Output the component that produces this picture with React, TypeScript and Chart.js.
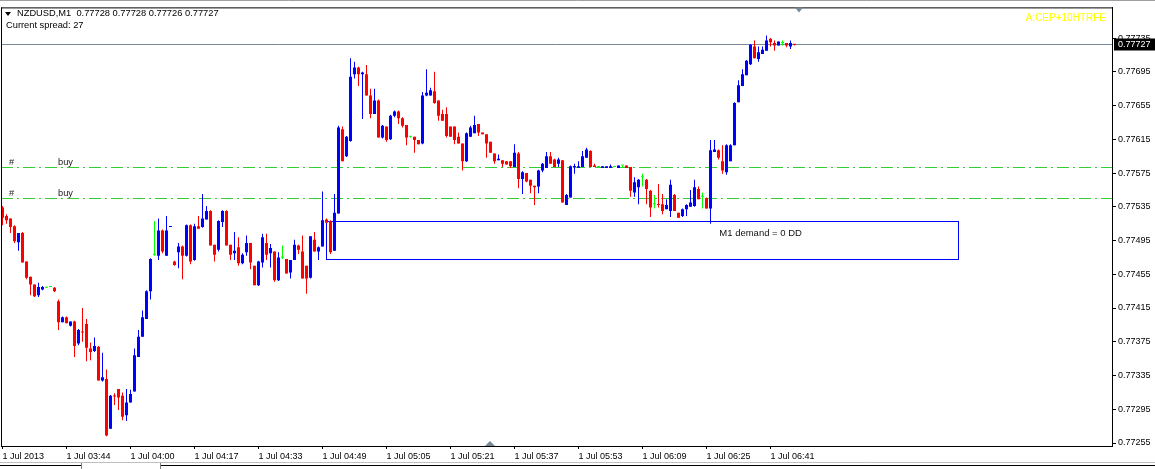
import React, { useEffect, useRef } from "react";
import { Chart, registerables } from "chart.js";

Chart.register(...registerables);

// ---- data ----
const symbolTitle = "NZDUSD,M1  0.77728 0.77728 0.77726 0.77727";
const spreadText = "Current spread: 27";
const indicatorText = "A:CEP+10HTRFE";
const demandText = "M1 demand = 0 DD";

const timeLabels = [
  "1 Jul 2013", "1 Jul 03:44", "1 Jul 04:00", "1 Jul 04:17", "1 Jul 04:33", "1 Jul 04:49",
  "1 Jul 05:05", "1 Jul 05:21", "1 Jul 05:37", "1 Jul 05:53", "1 Jul 06:09", "1 Jul 06:25", "1 Jul 06:41",
];
const timeLabelBars = [0, 16, 32, 48, 64, 80, 96, 112, 128, 144, 160, 176, 192];

const priceTicks = [
  0.77255, 0.77295, 0.77335, 0.77375, 0.77415, 0.77455, 0.77495,
  0.77535, 0.77575, 0.77615, 0.77655, 0.77695, 0.77735,
];

const currentPrice = 0.77727;
const buyLevels = [0.77582, 0.77545];
const demandZone = { startBar: 81, endBar: 239, top: 0.77517, bottom: 0.77473 };
const demandTextAt = { bar: 179.2, price: 0.77503 };

const opens = [
  0.77534, 0.77524, 0.77521, 0.77512, 0.77493, 0.77504, 0.77470, 0.77452, 0.77443, 0.77430,
  0.77437, 0.77439, 0.77440, 0.77439, 0.77423, 0.77398, 0.77404, 0.77394, 0.77399, 0.77373,
  0.77387, 0.77396, 0.77367, 0.77364, 0.77369, 0.77329, 0.77331, 0.77272, 0.77311, 0.77319,
  0.77311, 0.77288, 0.77303, 0.77316, 0.77357, 0.77381, 0.77402, 0.77435, 0.77478, 0.77477,
  0.77507, 0.77477, 0.77511, 0.77470, 0.77481, 0.77488, 0.77477, 0.77513, 0.77472, 0.77512,
  0.77511, 0.77520, 0.77530, 0.77490, 0.77484, 0.77517, 0.77530, 0.77490, 0.77480, 0.77487,
  0.77468, 0.77481, 0.77492, 0.77465, 0.77442, 0.77469, 0.77492, 0.77480, 0.77482, 0.77448,
  0.77475, 0.77473, 0.77457, 0.77472, 0.77489, 0.77482, 0.77465, 0.77451, 0.77496, 0.77482,
  0.77488, 0.77520, 0.77518, 0.77483, 0.77527, 0.77627, 0.77595, 0.77613, 0.77692, 0.77700,
  0.77692, 0.77692, 0.77667, 0.77645, 0.77661, 0.77617, 0.77630, 0.77615, 0.77643, 0.77648,
  0.77640, 0.77632, 0.77618, 0.77618, 0.77614, 0.77610, 0.77667, 0.77667, 0.77672, 0.77661,
  0.77645, 0.77645, 0.77630, 0.77630, 0.77618, 0.77610, 0.77589, 0.77618, 0.77622, 0.77633,
  0.77623, 0.77621, 0.77612, 0.77598, 0.77590, 0.77590, 0.77589, 0.77589, 0.77582, 0.77598,
  0.77568, 0.77575, 0.77567, 0.77560, 0.77559, 0.77578, 0.77581, 0.77595, 0.77591, 0.77586,
  0.77590, 0.77537, 0.77546, 0.77582, 0.77581, 0.77582, 0.77593, 0.77601, 0.77584, 0.77582,
  0.77581, 0.77581, 0.77581, 0.77582, 0.77581, 0.77584, 0.77584, 0.77582, 0.77552, 0.77558,
  0.77570, 0.77567, 0.77554, 0.77538, 0.77538, 0.77538, 0.77532, 0.77530, 0.77549, 0.77528,
  0.77524, 0.77532, 0.77535, 0.77536, 0.77556, 0.77547, 0.77545, 0.77533, 0.77600, 0.77602,
  0.77589, 0.77576, 0.77589, 0.77608, 0.77659, 0.77678, 0.77691, 0.77704, 0.77725, 0.77710,
  0.77716, 0.77720, 0.77734, 0.77729, 0.77726, 0.77729, 0.77729, 0.77725, 0.77728,
];
const highs = [
  0.77536, 0.77526, 0.77521, 0.77513, 0.77504, 0.77505, 0.77470, 0.77452, 0.77443, 0.77445,
  0.77441, 0.77440, 0.77441, 0.77440, 0.77425, 0.77405, 0.77405, 0.77399, 0.77400, 0.77390,
  0.77415, 0.77402, 0.77374, 0.77380, 0.77370, 0.77362, 0.77342, 0.77312, 0.77314, 0.77319,
  0.77315, 0.77319, 0.77318, 0.77367, 0.77389, 0.77412, 0.77436, 0.77474, 0.77518, 0.77521,
  0.77508, 0.77524, 0.77512, 0.77471, 0.77492, 0.77489, 0.77514, 0.77514, 0.77515, 0.77524,
  0.77550, 0.77536, 0.77531, 0.77490, 0.77519, 0.77531, 0.77531, 0.77490, 0.77505, 0.77499,
  0.77480, 0.77501, 0.77492, 0.77465, 0.77471, 0.77503, 0.77503, 0.77491, 0.77482, 0.77481,
  0.77489, 0.77473, 0.77472, 0.77496, 0.77490, 0.77501, 0.77465, 0.77500, 0.77505, 0.77488,
  0.77553, 0.77521, 0.77519, 0.77550, 0.77631, 0.77630, 0.77619, 0.77711, 0.77707, 0.77701,
  0.77695, 0.77703, 0.77675, 0.77675, 0.77662, 0.77632, 0.77630, 0.77644, 0.77649, 0.77649,
  0.77641, 0.77632, 0.77619, 0.77618, 0.77614, 0.77671, 0.77698, 0.77676, 0.77695, 0.77661,
  0.77650, 0.77653, 0.77630, 0.77630, 0.77623, 0.77610, 0.77623, 0.77631, 0.77643, 0.77633,
  0.77623, 0.77621, 0.77612, 0.77598, 0.77597, 0.77590, 0.77589, 0.77589, 0.77609, 0.77600,
  0.77577, 0.77575, 0.77567, 0.77560, 0.77579, 0.77587, 0.77600, 0.77600, 0.77592, 0.77593,
  0.77590, 0.77550, 0.77584, 0.77586, 0.77589, 0.77601, 0.77605, 0.77602, 0.77586, 0.77582,
  0.77583, 0.77583, 0.77585, 0.77582, 0.77584, 0.77584, 0.77584, 0.77582, 0.77570, 0.77568,
  0.77574, 0.77568, 0.77555, 0.77549, 0.77562, 0.77550, 0.77544, 0.77567, 0.77550, 0.77528,
  0.77533, 0.77538, 0.77555, 0.77567, 0.77559, 0.77552, 0.77546, 0.77614, 0.77614, 0.77603,
  0.77608, 0.77609, 0.77609, 0.77659, 0.77685, 0.77698, 0.77709, 0.77728, 0.77732, 0.77725,
  0.77725, 0.77738, 0.77735, 0.77732, 0.77731, 0.77732, 0.77729, 0.77732, 0.77728,
];
const lows = [
  0.77513, 0.77515, 0.77504, 0.77492, 0.77483, 0.77469, 0.77449, 0.77430, 0.77428, 0.77428,
  0.77436, 0.77439, 0.77440, 0.77434, 0.77389, 0.77398, 0.77397, 0.77393, 0.77357, 0.77371,
  0.77375, 0.77352, 0.77353, 0.77363, 0.77329, 0.77328, 0.77263, 0.77272, 0.77300, 0.77294,
  0.77282, 0.77281, 0.77303, 0.77316, 0.77357, 0.77381, 0.77402, 0.77425, 0.77477, 0.77472,
  0.77480, 0.77477, 0.77511, 0.77465, 0.77462, 0.77449, 0.77476, 0.77467, 0.77471, 0.77509,
  0.77510, 0.77520, 0.77489, 0.77470, 0.77482, 0.77511, 0.77489, 0.77472, 0.77472, 0.77465,
  0.77467, 0.77477, 0.77461, 0.77442, 0.77441, 0.77463, 0.77472, 0.77463, 0.77446, 0.77447,
  0.77473, 0.77456, 0.77450, 0.77472, 0.77479, 0.77450, 0.77432, 0.77450, 0.77482, 0.77472,
  0.77488, 0.77516, 0.77479, 0.77483, 0.77527, 0.77589, 0.77594, 0.77612, 0.77687, 0.77678,
  0.77639, 0.77667, 0.77640, 0.77645, 0.77617, 0.77616, 0.77612, 0.77614, 0.77641, 0.77633,
  0.77629, 0.77608, 0.77617, 0.77599, 0.77609, 0.77609, 0.77666, 0.77667, 0.77657, 0.77637,
  0.77637, 0.77617, 0.77618, 0.77609, 0.77610, 0.77578, 0.77588, 0.77618, 0.77622, 0.77619,
  0.77621, 0.77593, 0.77599, 0.77586, 0.77590, 0.77582, 0.77585, 0.77581, 0.77582, 0.77557,
  0.77550, 0.77564, 0.77551, 0.77537, 0.77551, 0.77576, 0.77581, 0.77586, 0.77582, 0.77582,
  0.77540, 0.77537, 0.77546, 0.77574, 0.77581, 0.77582, 0.77593, 0.77582, 0.77582, 0.77582,
  0.77581, 0.77581, 0.77581, 0.77582, 0.77581, 0.77581, 0.77581, 0.77547, 0.77547, 0.77538,
  0.77559, 0.77538, 0.77523, 0.77533, 0.77534, 0.77526, 0.77532, 0.77523, 0.77530, 0.77522,
  0.77523, 0.77524, 0.77535, 0.77535, 0.77544, 0.77533, 0.77533, 0.77515, 0.77600, 0.77591,
  0.77574, 0.77573, 0.77589, 0.77608, 0.77659, 0.77678, 0.77691, 0.77703, 0.77711, 0.77707,
  0.77716, 0.77720, 0.77725, 0.77720, 0.77726, 0.77726, 0.77724, 0.77722, 0.77726,
];
const closes = [
  0.77522, 0.77519, 0.77511, 0.77494, 0.77504, 0.77469, 0.77451, 0.77443, 0.77429, 0.77440,
  0.77440, 0.77439, 0.77440, 0.77435, 0.77398, 0.77404, 0.77397, 0.77399, 0.77370, 0.77389,
  0.77386, 0.77368, 0.77363, 0.77370, 0.77329, 0.77333, 0.77264, 0.77311, 0.77310, 0.77309,
  0.77286, 0.77303, 0.77313, 0.77359, 0.77381, 0.77404, 0.77435, 0.77473, 0.77478, 0.77507,
  0.77482, 0.77507, 0.77512, 0.77466, 0.77488, 0.77477, 0.77513, 0.77470, 0.77512, 0.77509,
  0.77521, 0.77530, 0.77489, 0.77478, 0.77518, 0.77530, 0.77489, 0.77478, 0.77483, 0.77468,
  0.77478, 0.77492, 0.77469, 0.77442, 0.77470, 0.77499, 0.77478, 0.77486, 0.77448, 0.77475,
  0.77475, 0.77456, 0.77472, 0.77490, 0.77484, 0.77450, 0.77450, 0.77500, 0.77482, 0.77487,
  0.77519, 0.77516, 0.77481, 0.77528, 0.77629, 0.77589, 0.77618, 0.77689, 0.77700, 0.77692,
  0.77694, 0.77667, 0.77645, 0.77661, 0.77617, 0.77631, 0.77614, 0.77643, 0.77648, 0.77640,
  0.77631, 0.77617, 0.77618, 0.77614, 0.77609, 0.77667, 0.77670, 0.77673, 0.77658, 0.77643,
  0.77637, 0.77619, 0.77618, 0.77614, 0.77610, 0.77589, 0.77622, 0.77629, 0.77632, 0.77623,
  0.77621, 0.77610, 0.77599, 0.77589, 0.77592, 0.77586, 0.77585, 0.77583, 0.77599, 0.77568,
  0.77576, 0.77565, 0.77560, 0.77558, 0.77578, 0.77586, 0.77595, 0.77586, 0.77582, 0.77591,
  0.77540, 0.77549, 0.77583, 0.77583, 0.77583, 0.77595, 0.77603, 0.77582, 0.77582, 0.77582,
  0.77583, 0.77583, 0.77583, 0.77582, 0.77584, 0.77584, 0.77581, 0.77554, 0.77564, 0.77567,
  0.77570, 0.77556, 0.77534, 0.77538, 0.77537, 0.77530, 0.77537, 0.77561, 0.77530, 0.77522,
  0.77532, 0.77537, 0.77540, 0.77558, 0.77544, 0.77547, 0.77533, 0.77602, 0.77603, 0.77593,
  0.77578, 0.77608, 0.77608, 0.77658, 0.77679, 0.77692, 0.77708, 0.77727, 0.77711, 0.77718,
  0.77721, 0.77732, 0.77730, 0.77726, 0.77731, 0.77729, 0.77726, 0.77729, 0.77727,
];

// ---- styling ----
const UP = "#0000FF";
const DOWN = "#FF0000";
const DOJI = "#00FF00";
const FONT = "'Liberation Sans', Arial, sans-serif";

const Y_MAX = 0.777713;
const Y_MIN = 0.7725145;

export default function App() {
  const canvasRef = useRef<HTMLCanvasElement | null>(null);

  useEffect(() => {
    const canvas = canvasRef.current;
    if (!canvas) return;

    const colors = opens.map((o, i) => (closes[i] > o ? UP : closes[i] < o ? DOWN : DOJI));
    const bodies = opens.map((o, i) => ({ x: i, y: [Math.min(o, closes[i]), Math.max(o, closes[i])] }));
    const wicks = highs.map((h, i) => ({ x: i, y: [lows[i], h] }));

    const line = (ctx: CanvasRenderingContext2D, x1: number, y1: number, x2: number, y2: number) => {
      ctx.beginPath();
      ctx.moveTo(x1, y1);
      ctx.lineTo(x2, y2);
      ctx.stroke();
    };

    const overlay = {
      id: "mtOverlay",
      beforeDatasetsDraw(chart: any) {
        const { ctx, chartArea: ca, scales } = chart;
        const x = scales.x;
        const y = scales.y;
        ctx.save();
        ctx.beginPath();
        ctx.rect(ca.left, ca.top, ca.right - ca.left, ca.bottom - ca.top);
        ctx.clip();
        ctx.lineWidth = 1;

        // current price line
        const py = Math.floor(y.getPixelForValue(currentPrice)) + 0.5;
        ctx.strokeStyle = "#778899";
        line(ctx, ca.left, py, ca.right, py);

        // buy levels (dash-dot)
        buyLevels.forEach((lv) => {
          const ly = Math.floor(y.getPixelForValue(lv)) + 0.5;
          ctx.save();
          ctx.strokeStyle = "#32CD32";
          ctx.lineWidth = 1;
          ctx.setLineDash([12, 4, 2, 4]);
          ctx.lineDashOffset = 0;
          line(ctx, ca.left, ly, ca.right, ly);
          ctx.restore();
        });

        // demand rectangle
        const x0 = Math.floor(x.getPixelForValue(demandZone.startBar)) + 0.5;
        const x1 = Math.floor(x.getPixelForValue(demandZone.endBar)) + 0.5;
        const y0 = Math.floor(y.getPixelForValue(demandZone.top)) + 0.5;
        const y1 = Math.floor(y.getPixelForValue(demandZone.bottom)) + 0.5;
        ctx.strokeStyle = "#0000FF";
        ctx.strokeRect(x0, y0, x1 - x0, y1 - y0);
        ctx.restore();
      },
      afterDraw(chart: any) {
        const { ctx, chartArea: ca, scales, width, height } = chart;
        const x = scales.x;
        const y = scales.y;
        ctx.save();
        ctx.lineWidth = 1;

        // frame top & left
        ctx.strokeStyle = "#000";
        line(ctx, ca.left, ca.top + 0.5, ca.right + 1, ca.top + 0.5);
        line(ctx, ca.left + 0.5, ca.top, ca.left + 0.5, ca.bottom);
        // window top edge
        ctx.strokeStyle = "#A0A0A0";
        line(ctx, 0, 0.5, width, 0.5);

        // level labels
        ctx.fillStyle = "#222";
        ctx.font = `9.3px ${FONT}`;
        ctx.textBaseline = "middle";
        ctx.textAlign = "left";
        buyLevels.forEach((lv) => {
          const ly = Math.floor(y.getPixelForValue(lv));
          ctx.fillText("#", ca.left + 8, ly - 5);
          ctx.fillText("buy", ca.left + 57, ly - 5);
        });

        // demand text
        ctx.fillStyle = "#111";
        ctx.font = `9.5px ${FONT}`;
        ctx.fillText(demandText, x.getPixelForValue(demandTextAt.bar), y.getPixelForValue(demandTextAt.price));

        // header
        ctx.fillStyle = "#000";
        ctx.beginPath();
        ctx.moveTo(5, 12);
        ctx.lineTo(11, 12);
        ctx.lineTo(8, 16);
        ctx.closePath();
        ctx.fill();
        ctx.font = `9.3px ${FONT}`;
        ctx.fillText(symbolTitle, 17, 13.5);
        ctx.fillText(spreadText, 6, 25.5);

        // indicator text (yellow)
        ctx.fillStyle = "#FFFF00";
        ctx.font = `10px ${FONT}`;
        ctx.textAlign = "right";
        ctx.fillText(indicatorText, 1106, 18);

        // current price box
        const py = Math.floor(y.getPixelForValue(currentPrice)) + 0.5;
        ctx.fillStyle = "#000";
        ctx.fillRect(ca.right + 2, py - 6, width - ca.right - 2, 12);
        ctx.fillStyle = "#FFF";
        ctx.textAlign = "left";
        ctx.font = `9px ${FONT}`;
        ctx.fillText(currentPrice.toFixed(5), ca.right + 6, py);

        // shift markers
        ctx.fillStyle = "#778899";
        ctx.beginPath();
        ctx.moveTo(795, ca.top);
        ctx.lineTo(803, ca.top);
        ctx.lineTo(799, ca.top + 5);
        ctx.closePath();
        ctx.fill();
        ctx.beginPath();
        ctx.moveTo(485, ca.bottom);
        ctx.lineTo(495, ca.bottom);
        ctx.lineTo(490, ca.bottom - 5);
        ctx.closePath();
        ctx.fill();

        // tab bar at bottom
        ctx.strokeStyle = "#C0C0C0";
        line(ctx, 0, height - 6.5, width, height - 6.5);
        ctx.strokeStyle = "#000";
        line(ctx, 0, height - 3.5, 81, height - 3.5);
        line(ctx, 161, height - 3.5, width, height - 3.5);
        ctx.strokeStyle = "#808080";
        line(ctx, 81.5, height - 6, 81.5, height);
        line(ctx, 160.5, height - 6, 160.5, height);
        ctx.restore();
      },
    };

    const chart = new Chart(canvas, {
      type: "bar",
      data: {
        datasets: [
          {
            label: "body",
            data: bodies as any,
            backgroundColor: colors,
            borderWidth: 0,
            grouped: false,
            categoryPercentage: 1,
            barPercentage: 0.75,
            minBarLength: 1,
            inflateAmount: 0,
            order: 0,
          } as any,
          {
            label: "wick",
            data: wicks as any,
            backgroundColor: colors,
            borderWidth: 0,
            grouped: false,
            categoryPercentage: 1,
            barPercentage: 0.25,
            minBarLength: 1,
            inflateAmount: 0,
            order: 1,
          } as any,
        ],
      },
      options: {
        animation: false,
        responsive: false,
        maintainAspectRatio: false,
        devicePixelRatio: 1,
        events: [],
        layout: { padding: { top: 6, left: 1, right: 0, bottom: 0 } },
        plugins: { legend: { display: false }, tooltip: { enabled: false }, title: { display: false } },
        scales: {
          x: {
            type: "linear",
            position: "bottom",
            min: -0.375,
            max: 277.375,
            offset: false,
            afterBuildTicks: (s: any) => {
              s.ticks = timeLabelBars.map((v) => ({ value: v }));
            },
            afterFit: (s: any) => {
              s.height = 23;
            },
            ticks: {
              autoSkip: false,
              maxRotation: 0,
              minRotation: 0,
              align: "start",
              padding: 2,
              color: "#000",
              font: { family: FONT, size: 9 },
              callback: (_v: any, i: number) => timeLabels[i],
            },
            grid: { display: true, offset: false, drawOnChartArea: false, drawTicks: true, tickLength: 3, color: "#000" },
            border: { display: true, color: "#000", width: 1 },
          },
          y: {
            type: "linear",
            position: "right",
            min: Y_MIN,
            max: Y_MAX,
            beginAtZero: false,
            afterBuildTicks: (s: any) => {
              s.ticks = priceTicks.map((v) => ({ value: v }));
            },
            afterFit: (s: any) => {
              s.width = 43;
            },
            ticks: {
              autoSkip: false,
              padding: 2,
              color: "#000",
              font: { family: FONT, size: 9 },
              callback: (v: any) => Number(v).toFixed(5),
            },
            grid: { display: true, drawOnChartArea: false, drawTicks: true, tickLength: 4, color: "#000" },
            border: { display: true, color: "#000", width: 1 },
          },
        },
      } as any,
      plugins: [overlay],
    });

    return () => chart.destroy();
  }, []);

  return (
    <div style={{ position: "fixed", left: 0, top: 0, width: 1155, height: 469, background: "#fff" }}>
      <canvas ref={canvasRef} width={1155} height={469} style={{ display: "block", width: 1155, height: 469 }} />
    </div>
  );
}
